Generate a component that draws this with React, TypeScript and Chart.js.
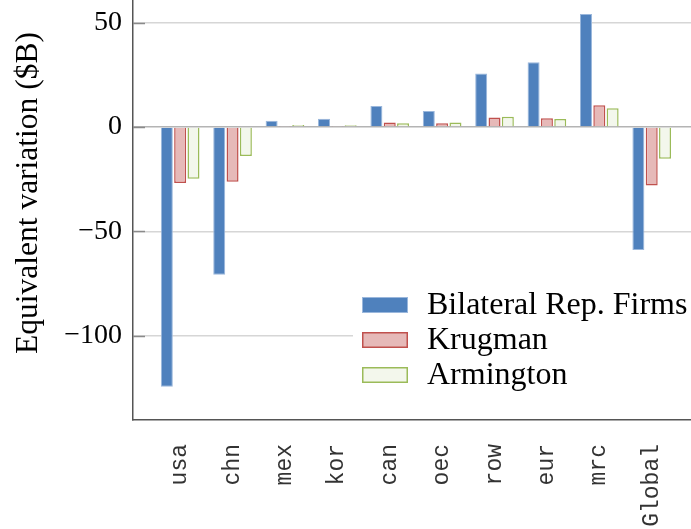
import React, { useEffect, useRef } from 'react';
import { Chart, registerables } from 'chart.js';

Chart.register(...registerables);

const categories = ['usa', 'chn', 'mex', 'kor', 'can', 'oec', 'row', 'eur', 'mrc', 'Global'];
const bilateral = [-124.5, -70.8, 3.0, 4.0, 10.1, 7.7, 25.7, 31.0, 54.2, -59.0];
const krugman = [-26.8, -26.2, 0.5, 0.5, 2.1, 1.8, 4.6, 4.2, 10.4, -28.0];
const armington = [-24.8, -13.9, 1.0, 0.8, 1.8, 2.2, 4.9, 3.8, 9.0, -15.2];
const seriesNames = ['Bilateral Rep. Firms', 'Krugman', 'Armington'];
const yTicks = [-100, -50, 0, 50];
const yTitle = 'Equivalent variation ($B)';

const Y_MIN = -140.5;
const Y_MAX = 60.9;
const X_MIN = -0.9;
const X_MAX = 9.75;

const SERIF = '"Liberation Serif", "DejaVu Serif", serif';
const MONO = '"Liberation Mono", "DejaVu Sans Mono", monospace';

const styles = [
  { fill: '#4F81BD', edge: '#9ab7dc', w: 1 },
  { fill: '#E6B9B8', edge: '#C0504D', w: 1.5 },
  { fill: '#F3F7EC', edge: '#9BBB59', w: 1.5 },
];

const fmt = (v: number) => (v < 0 ? '\u2212' + Math.abs(v) : String(v));

const decor = {
  id: 'decor',
  afterDatasetsDraw(chart: any) {
    const { ctx, chartArea, scales } = chart;
    const y = scales.y;
    ctx.save();
    ctx.strokeStyle = '#8a8a8a';
    ctx.lineWidth = 1.5;
    yTicks.forEach((v) => {
      const py = Math.round(y.getPixelForValue(v)) + 0.5;
      ctx.beginPath();
      ctx.moveTo(chartArea.left, py);
      ctx.lineTo(chartArea.left + 12, py);
      ctx.stroke();
    });
    // y title
    ctx.save();
    ctx.translate(37, 193);
    ctx.rotate(-Math.PI / 2);
    ctx.fillStyle = '#000';
    ctx.font = `31.5px ${SERIF}`;
    ctx.textAlign = 'center';
    ctx.textBaseline = 'alphabetic';
    ctx.fillText(yTitle, 0, 0);
    ctx.restore();
    // legend
    const lx = chartArea.right - 338;
    const ly = 284;
    ctx.fillStyle = '#ffffff';
    ctx.fillRect(lx, ly, chartArea.right - lx, 108);
    chart.data.datasets.forEach((ds: any, i: number) => {
      const cy = 305 + i * 35;
      const st = styles[i];
      ctx.fillStyle = st.fill;
      ctx.fillRect(lx + 9, cy - 8, 46, 16);
      ctx.strokeStyle = st.edge;
      ctx.lineWidth = st.w;
      ctx.strokeRect(lx + 9 + st.w / 2, cy - 8 + st.w / 2, 46 - st.w, 16 - st.w);
      ctx.fillStyle = '#000';
      ctx.font = `32px ${SERIF}`;
      ctx.textAlign = 'left';
      ctx.textBaseline = 'middle';
      ctx.fillText(ds.label, lx + 74, cy + 1);
    });
    ctx.restore();
  },
};

export default function App() {
  const ref = useRef<HTMLCanvasElement>(null);
  useEffect(() => {
    const series = [bilateral, krugman, armington];
    const chart = new Chart(ref.current!, {
      type: 'bar',
      data: {
        datasets: series.map((arr, i) => ({
          label: seriesNames[i],
          data: arr.map((v, k) => ({ x: k, y: v })),
          backgroundColor: styles[i].fill,
          borderColor: styles[i].edge,
          borderWidth: styles[i].w,
          categoryPercentage: 0.763,
          barPercentage: 0.9,
        })),
      },
      options: {
        responsive: false,
        animation: false,
        layout: { padding: 0 },
        plugins: { legend: { display: false }, tooltip: { enabled: false } },
        scales: {
          x: {
            type: 'linear',
            min: X_MIN,
            max: X_MAX,
            offset: false,
            grid: { display: false, drawTicks: false },
            border: { display: true, color: '#555', width: 1.5 },
            afterBuildTicks: (axis: any) => {
              axis.ticks = categories.map((_, i) => ({ value: i }));
            },
            afterFit: (s: any) => {
              s.height = 109;
              s.paddingLeft = 0;
              s.paddingRight = 0;
            },
            ticks: {
              autoSkip: false,
              minRotation: 90,
              maxRotation: 90,
              padding: 24,
              color: '#333',
              font: { family: MONO, size: 23 },
              callback: (v: any) => categories[Math.round(Number(v))] ?? '',
            },
          },
          y: {
            min: Y_MIN,
            max: Y_MAX,
            afterBuildTicks: (axis: any) => {
              axis.ticks = yTicks.map((v) => ({ value: v }));
            },
            afterFit: (s: any) => {
              s.width = 133;
              s.paddingTop = 0;
              s.paddingBottom = 0;
            },
            grid: {
              drawTicks: false,
              color: (c: any) => (c.tick && c.tick.value === 0 ? '#b4b4b4' : '#d6d6d6'),
              lineWidth: 1.5,
            },
            border: { display: true, color: '#555', width: 1.5 },
            ticks: {
              padding: 11,
              color: '#000',
              font: { family: SERIF, size: 28 },
              callback: (v: any) => fmt(Number(v)),
            },
            title: { display: false },
          },
        },
      },
      plugins: [decor],
    });
    return () => chart.destroy();
  }, []);
  return (
    <div style={{ position: 'fixed', left: 0, top: 0, width: 691, height: 529, background: '#fff' }}>
      <canvas ref={ref} width={691} height={529} style={{ display: 'block' }} />
    </div>
  );
}
